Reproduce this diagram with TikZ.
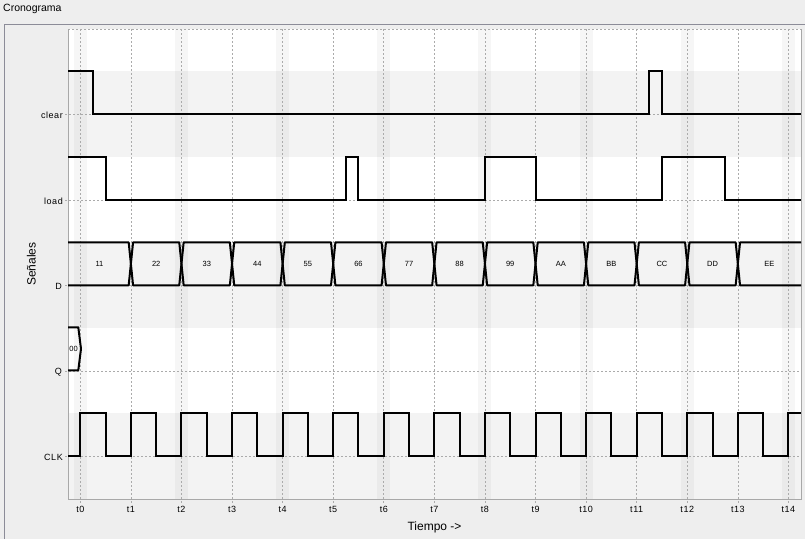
\documentclass[tikz,border=0pt]{standalone}
\usepackage{fontspec}
\setmainfont{Liberation Sans}
\newfontfamily\lblfont[LetterSpace=6]{Liberation Sans}
\definecolor{panel}{HTML}{EEEEEE}
\definecolor{band}{HTML}{F3F3F3}
\definecolor{gridgray}{HTML}{ABABAB}
\definecolor{bordergray}{HTML}{A8A8A8}
\definecolor{framegray}{HTML}{8C8C98}
\begin{document}
\begin{tikzpicture}[x=1pt,y=-1pt,
  declare function={tx(\k)=80.3+50.58*\k;},
  gridline/.style={draw=gridgray,line width=0.6pt,dash pattern=on 2pt off 2pt},
  sig/.style={line width=2pt,line join=miter,black},
  bus/.style={line width=2pt,line join=round,black},
  siglabel/.style={font=\fontsize{9}{10}\lblfont,anchor=east,inner sep=0pt},
  ticklabel/.style={font=\fontsize{9}{10}\lblfont,inner sep=0pt},
  buslabel/.style={font=\fontsize{7.5}{8}\selectfont,inner sep=0pt},
  axislabel/.style={font=\fontsize{12}{14}\selectfont,inner sep=0pt},
  titlelabel/.style={font=\fontsize{10.5}{12}\selectfont,inner sep=0pt,anchor=base west}]
\useasboundingbox (0,0) rectangle (805,539);
% panel
\fill[panel] (0,0) rectangle (805,539);
\draw[framegray,line width=1.2pt] (4.6,539) -- (4.6,24.5) -- (805,24.5);
\node[titlelabel] (title) at (3,11.8) {Cronograma};
% plot area
\fill[white] (68,29) rectangle (801,499);
\fill[band] (68,71.3) rectangle (801,156.8);
\fill[band] (68,242.3) rectangle (801,327.8);
\fill[band] (68,413.3) rectangle (801,499);
\foreach \k in {0,2,...,14} \fill[black,opacity=0.035] ({tx(\k)-6.5},29) rectangle ({tx(\k)+6.5},499);
\foreach \k in {0,...,14} \draw[gridline] ({tx(\k)},29) -- ({tx(\k)},503);
\foreach \y in {114.3,199.8,285.3,370.8,456.3} \draw[gridline] (65,\y) -- (801,\y);
\draw[gridline] (68,29) -- (801,29);
\draw[bordergray,line width=0.8pt] (68,29) -- (68,499) -- (801,499) -- (801,29);
% clear
\draw[sig] (68,71.3) -- ({tx(0.25)},71.3) -- ({tx(0.25)},114.3) -- ({tx(11.25)},114.3) -- ({tx(11.25)},71.3) -- ({tx(11.5)},71.3) -- ({tx(11.5)},114.3) -- (801,114.3);
% load
\draw[sig] (68,156.8) -- ({tx(0.5)},156.8) -- ({tx(0.5)},199.8) -- ({tx(5.25)},199.8) -- ({tx(5.25)},156.8) -- ({tx(5.5)},156.8) -- ({tx(5.5)},199.8) -- ({tx(8)},199.8) -- ({tx(8)},156.8) -- ({tx(9)},156.8) -- ({tx(9)},199.8) -- ({tx(11.5)},199.8) -- ({tx(11.5)},156.8) -- ({tx(12.75)},156.8) -- ({tx(12.75)},199.8) -- (801,199.8);
% D bus
\draw[bus] (68,242.3) -- ({tx(1)-2.2},242.3) -- ({tx(1)},263.8) -- ({tx(1)-2.2},285.3) -- (68,285.3);
\foreach \k in {1,...,12} \draw[bus] ({tx(\k)+2.2},242.3) -- ({tx(\k+1)-2.2},242.3) -- ({tx(\k+1)},263.8) -- ({tx(\k+1)-2.2},285.3) -- ({tx(\k)+2.2},285.3) -- ({tx(\k)},263.8) -- cycle;
\draw[bus] (801,242.3) -- ({tx(13)+2.2},242.3) -- ({tx(13)},263.8) -- ({tx(13)+2.2},285.3) -- (801,285.3);
\node[buslabel] (d0) at ({(68+tx(1))/2},263.8) {11};
\foreach \v [count=\i from 1] in {22,33,44,55,66,77,88,99,AA,BB,CC,DD}
  \node[buslabel] (d\i) at ({(tx(\i)+tx(\i+1))/2},263.8) {\v};
\node[buslabel] (d13) at ({(tx(13)+801)/2},263.8) {EE};
% Q
\draw[bus] (68,327.3) -- (78.3,327.3) -- (81,348.8) -- (78.3,370.3) -- (68,370.3);
\node[buslabel] (q0) at (73.6,348.8) {00};
% CLK
\draw[sig] (68,456.3) foreach \k in {0,...,13} { -- ({tx(\k)},456.3) -- ({tx(\k)},413.3) -- ({tx(\k+0.5)},413.3) -- ({tx(\k+0.5)},456.3) } -- ({tx(14)},456.3) -- ({tx(14)},413.3) -- (801,413.3);
% signal names
\node[siglabel] (lclear) at (63,115.3) {clear};
\node[siglabel] (lload) at (63,200.8) {load};
\node[siglabel] (lD) at (62,286.3) {D};
\node[siglabel] (lQ) at (62,371.8) {Q};
\node[siglabel] (lCLK) at (63,457.3) {CLK};
% ticks
\foreach \k in {0,...,14} \node[ticklabel] (t\k) at ({tx(\k)},509.5) {t\k};
% axis labels
\node[axislabel,anchor=base] (xlab) at (434.5,530) {Tiempo ->};
\node[axislabel,anchor=base,rotate=90] (ylab) at (35.5,264.2) {Señales};
\end{tikzpicture}
\end{document}
